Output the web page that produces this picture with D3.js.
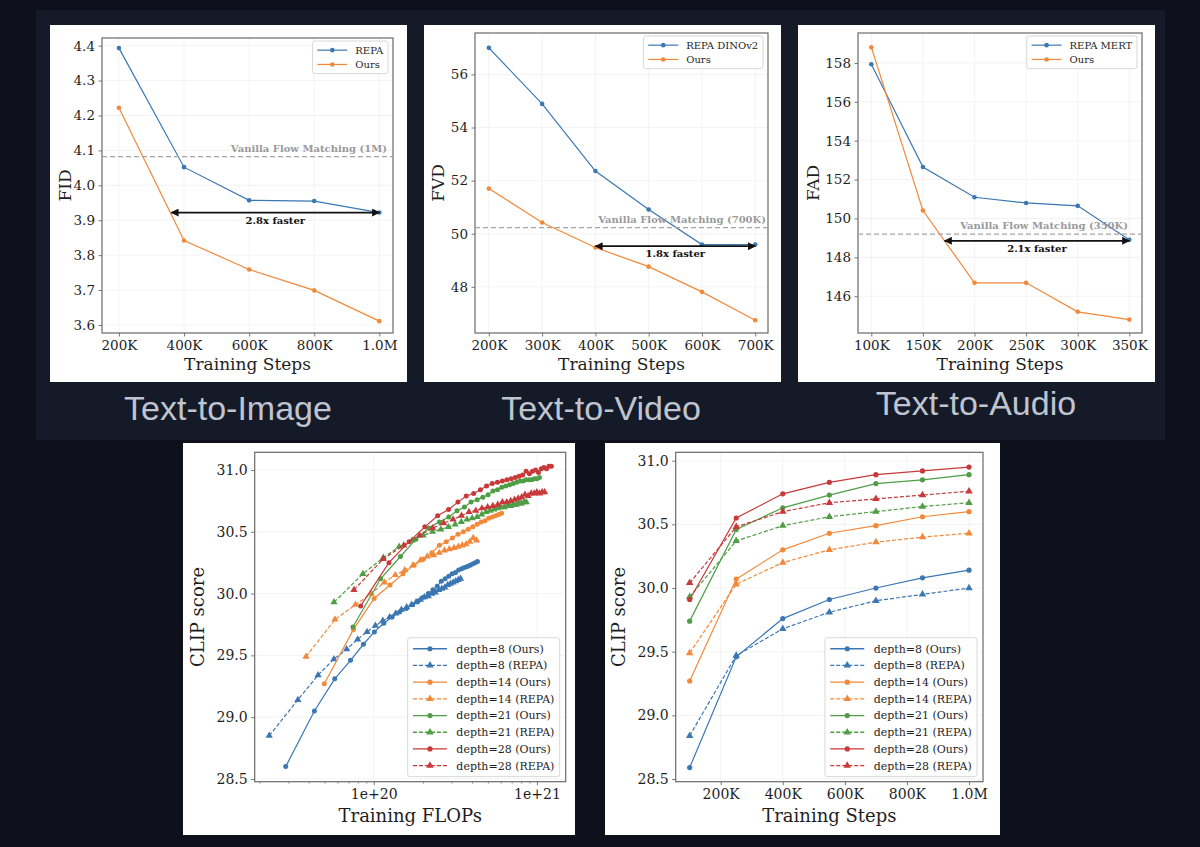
<!DOCTYPE html>
<html><head><meta charset="utf-8">
<script src="https://cdn.jsdelivr.net/npm/d3@7"></script>
<style>html,body{margin:0;padding:0;background:#0e111b;}svg{display:block;}</style>
</head><body>
<svg id="c" width="1200" height="847"></svg>
<script>
// ---------------- DATA ----------------
// Text-to-Image (FID)
const t2iSteps = [200000, 400000, 600000, 800000, 1000000];
const t2iRepa = [4.393, 4.052, 3.957, 3.955, 3.922];
const t2iOurs = [4.222, 3.842, 3.759, 3.699, 3.611];
const t2iVanilla = 4.082;
const t2iArrow = [361000, 1000000, 3.922];
const t2iXTicks = [200000, 400000, 600000, 800000, 1000000];
const t2iXLabels = ["200K", "400K", "600K", "800K", "1.0M"];
const t2iYTicks = [3.6, 3.7, 3.8, 3.9, 4.0, 4.1, 4.2, 4.3, 4.4];
const t2iYLabels = ["3.6", "3.7", "3.8", "3.9", "4.0", "4.1", "4.2", "4.3", "4.4"];

// Text-to-Video (FVD)
const t2vSteps = [200000, 300000, 400000, 500000, 600000, 700000];
const t2vRepa = [57.0, 54.89, 52.36, 50.91, 49.59, 49.59];
const t2vOurs = [51.70, 50.42, 49.48, 48.76, 47.81, 46.74];
const t2vVanilla = 50.23;
const t2vArrow = [400000, 700000, 49.53];
const t2vXTicks = [200000, 300000, 400000, 500000, 600000, 700000];
const t2vXLabels = ["200K", "300K", "400K", "500K", "600K", "700K"];
const t2vYTicks = [48, 50, 52, 54, 56];
const t2vYLabels = ["48", "50", "52", "54", "56"];

// Text-to-Audio (FAD)
const t2aSteps = [100000, 150000, 200000, 250000, 300000, 350000];
const t2aRepa = [157.93, 152.65, 151.09, 150.80, 150.65, 148.91];
const t2aOurs = [158.81, 150.41, 146.69, 146.69, 145.20, 144.80];
const t2aVanilla = 149.20;
const t2aArrow = [171000, 350000, 148.85];
const t2aXTicks = [100000, 150000, 200000, 250000, 300000, 350000];
const t2aXLabels = ["100K", "150K", "200K", "250K", "300K", "350K"];
const t2aYTicks = [146, 148, 150, 152, 154, 156, 158];
const t2aYLabels = ["146", "148", "150", "152", "154", "156", "158"];

// CLIP score vs Training FLOPs (x in units of 1e19 FLOPs)
const flopsD8Ours = [2.89, 4.33, 5.77, 7.21, 8.65, 10.09, 11.53, 12.97, 14.41, 15.85, 17.29, 18.73, 20.17, 21.61, 23.05, 24.49, 25.93, 27.37, 28.81, 30.25, 31.69, 33.13, 34.57, 36.01, 37.45, 38.89, 40.33, 41.77, 43.21];
const clipFD8Ours = [28.60, 29.05, 29.31, 29.46, 29.59, 29.69, 29.76, 29.81, 29.85, 29.88, 29.91, 29.94, 29.97, 30.00, 30.03, 30.06, 30.10, 30.12, 30.14, 30.16, 30.17, 30.19, 30.20, 30.21, 30.22, 30.23, 30.24, 30.25, 30.26];
const flopsD8Repa = [2.29, 3.43, 4.56, 5.70, 6.83, 7.97, 9.10, 10.24, 11.37, 12.51, 13.64, 14.78, 15.91, 17.05, 18.18, 19.32, 20.45, 21.59, 22.72, 23.86, 24.99, 26.13, 27.26, 28.40, 29.53, 30.67, 31.80, 32.94, 34.07];
const clipFD8Repa = [28.85, 29.14, 29.34, 29.47, 29.55, 29.63, 29.69, 29.74, 29.78, 29.81, 29.84, 29.87, 29.89, 29.91, 29.93, 29.95, 29.97, 29.98, 30.00, 30.01, 30.03, 30.04, 30.05, 30.07, 30.08, 30.09, 30.10, 30.11, 30.12];
const flopsD14Ours = [4.98, 7.52, 10.05, 12.59, 15.12, 17.66, 20.19, 22.73, 25.26, 27.80, 30.33, 32.87, 35.40, 37.94, 40.47, 43.01, 45.54, 48.08, 50.61, 53.15, 55.68, 58.22, 60.75];
const clipFD14Ours = [29.27, 29.71, 29.96, 30.07, 30.16, 30.23, 30.28, 30.33, 30.39, 30.42, 30.45, 30.48, 30.50, 30.52, 30.54, 30.56, 30.58, 30.59, 30.61, 30.62, 30.63, 30.64, 30.65];
const flopsD14Repa = [3.85, 5.79, 7.73, 9.67, 11.61, 13.55, 15.49, 17.43, 19.37, 21.31, 23.25, 25.19, 27.13, 29.07, 31.01, 32.95, 34.89, 36.83, 38.77, 40.71, 42.65];
const clipFD14Repa = [29.49, 29.79, 29.91, 30.00, 30.09, 30.15, 30.19, 30.23, 30.27, 30.30, 30.31, 30.33, 30.35, 30.36, 30.37, 30.38, 30.39, 30.40, 30.42, 30.45, 30.43];
const flopsD21Ours = [7.46, 11.02, 14.58, 18.14, 21.70, 25.26, 28.82, 32.38, 35.94, 39.50, 43.06, 46.62, 50.18, 53.74, 57.30, 60.86, 64.42, 67.98, 71.54, 75.10, 78.66, 82.22, 85.78, 89.34, 92.90, 96.46, 100.02, 103.58];
const clipFD21Ours = [29.73, 30.12, 30.30, 30.44, 30.53, 30.58, 30.62, 30.67, 30.70, 30.74, 30.76, 30.78, 30.80, 30.83, 30.84, 30.86, 30.87, 30.88, 30.89, 30.90, 30.91, 30.91, 30.92, 30.92, 30.92, 30.93, 30.93, 30.94];
const flopsD21Repa = [5.71, 8.58, 11.45, 14.32, 17.19, 20.06, 22.93, 25.80, 28.67, 31.54, 34.41, 37.28, 40.15, 43.02, 45.89, 48.76, 51.63, 54.50, 57.37, 60.24, 63.11, 65.98, 68.85, 71.72, 74.59, 77.46, 80.33, 83.20, 86.07];
const clipFD21Repa = [29.93, 30.16, 30.29, 30.38, 30.43, 30.47, 30.50, 30.52, 30.54, 30.56, 30.58, 30.60, 30.61, 30.62, 30.64, 30.66, 30.67, 30.68, 30.69, 30.70, 30.70, 30.71, 30.71, 30.72, 30.72, 30.73, 30.73, 30.74, 30.74];
const flopsD28Ours = [8.32, 12.40, 16.48, 20.56, 24.64, 28.72, 32.80, 36.88, 40.96, 45.04, 49.12, 53.20, 57.28, 61.36, 65.44, 69.52, 73.60, 77.68, 81.76, 85.84, 89.92, 94.00, 98.08, 102.16, 106.24, 110.32, 114.40, 118.48, 122.56];
const clipFD28Ours = [29.90, 30.25, 30.42, 30.54, 30.63, 30.68, 30.74, 30.79, 30.81, 30.84, 30.87, 30.89, 30.90, 30.91, 30.92, 30.93, 30.94, 30.95, 30.96, 30.99, 30.97, 30.99, 31.00, 30.98, 31.01, 31.02, 31.01, 31.03, 31.03];
const flopsD28Repa = [7.57, 11.42, 15.26, 19.11, 22.95, 26.80, 30.64, 34.49, 38.33, 42.18, 46.02, 49.87, 53.71, 57.56, 61.40, 65.25, 69.09, 72.94, 76.78, 80.63, 84.47, 88.32, 92.16, 96.01, 99.85, 103.70, 107.54, 111.39];
const clipFD28Repa = [30.03, 30.28, 30.39, 30.47, 30.53, 30.57, 30.60, 30.63, 30.66, 30.67, 30.69, 30.70, 30.71, 30.72, 30.74, 30.74, 30.75, 30.76, 30.77, 30.78, 30.80, 30.79, 30.81, 30.81, 30.82, 30.81, 30.82, 30.82];
const flopsMajorTicks = [1e20, 1e21];
const flopsMajorLabels = ["1e+20", "1e+21"];
const flopsMinorTicks = [2e19, 3e19, 4e19, 5e19, 6e19, 7e19, 8e19, 9e19, 2e20, 3e20, 4e20, 5e20, 6e20, 7e20, 8e20, 9e20];

// CLIP score vs Training Steps
const clipSteps = [100000, 250000, 400000, 550000, 700000, 850000, 1000000];
const clipSD8Ours = [28.59, 29.46, 29.76, 29.91, 30.00, 30.08, 30.14];
const clipSD8Repa = [28.84, 29.47, 29.68, 29.81, 29.90, 29.95, 30.00];
const clipSD14Ours = [29.27, 30.07, 30.30, 30.43, 30.49, 30.56, 30.60];
const clipSD14Repa = [29.49, 30.03, 30.20, 30.30, 30.36, 30.40, 30.43];
const clipSD21Ours = [29.74, 30.46, 30.63, 30.73, 30.82, 30.85, 30.89];
const clipSD21Repa = [29.93, 30.37, 30.49, 30.56, 30.60, 30.64, 30.67];
const clipSD28Ours = [29.91, 30.55, 30.74, 30.83, 30.89, 30.92, 30.95];
const clipSD28Repa = [30.04, 30.48, 30.60, 30.67, 30.70, 30.73, 30.76];
const clipStepXTicks = [200000, 400000, 600000, 800000, 1000000];
const clipStepXLabels = ["200K", "400K", "600K", "800K", "1.0M"];
const clipYTicks = [28.5, 29.0, 29.5, 30.0, 30.5, 31.0];
const clipYLabels = ["28.5", "29.0", "29.5", "30.0", "30.5", "31.0"];

const depthLabels = ["depth=8 (Ours)", "depth=8 (REPA)", "depth=14 (Ours)", "depth=14 (REPA)", "depth=21 (Ours)", "depth=21 (REPA)", "depth=28 (Ours)", "depth=28 (REPA)"];
const taskTitles = ["Text-to-Image", "Text-to-Video", "Text-to-Audio"];

// ---------------- STYLE ----------------
const FONT = "'DejaVu Serif', serif";
const C = {blue: "#3b77b2", orange: "#f2893a", green: "#4f9e45", red: "#c8393a"};
const DASH = "4,2";

const svg = d3.select("#c");
const defs = svg.append("defs");
defs.append("marker").attr("id", "ah").attr("viewBox", "0 0 10 10").attr("refX", 9).attr("refY", 5)
  .attr("markerWidth", 10).attr("markerHeight", 8).attr("markerUnits", "userSpaceOnUse")
  .attr("orient", "auto-start-reverse")
  .append("path").attr("d", "M0,0 L10,5 L0,10 Z").attr("fill", "#111");

svg.append("rect").attr("width", 1200).attr("height", 847).attr("fill", "#0e111b");
svg.append("rect").attr("x", 36).attr("y", 10).attr("width", 1129).attr("height", 430).attr("fill", "#151a28");

// cards
[[50, 25, 357, 357], [424, 25, 357, 357], [798, 25, 357, 357], [183, 443, 392, 392], [605, 443, 395, 392]]
  .forEach(c => svg.append("rect").attr("x", c[0]).attr("y", c[1]).attr("width", c[2]).attr("height", c[3]).attr("fill", "#ffffff"));

// task titles
const titleX = [228, 601, 976], titleY = [420, 420, 415];
taskTitles.forEach((t, i) => svg.append("text").attr("x", titleX[i]).attr("y", titleY[i]).attr("text-anchor", "middle")
  .attr("font-family", "'Liberation Sans', Arial, Helvetica, sans-serif").attr("font-size", 34).attr("fill", "#bfc4ce").text(t));

function marker(g, type, cx, cy, color, r) {
  if (type === "circle") {
    g.append("circle").attr("cx", cx).attr("cy", cy).attr("r", r).attr("fill", color);
  } else {
    g.append("path").attr("d", d3.symbol(d3.symbolTriangle, r * r * 3.6)()).attr("transform", `translate(${cx},${cy})`).attr("fill", color);
  }
}

function drawPanel(o) {
  const g = svg.append("g");
  const x = o.x, y = o.y;
  // grid
  g.append("g").selectAll("line").data(o.xGrid).join("line")
    .attr("x1", d => x(d)).attr("x2", d => x(d)).attr("y1", o.t).attr("y2", o.b)
    .attr("stroke", "#f0f0f0").attr("stroke-width", 0.8);
  g.append("g").selectAll("line").data(o.yTicks).join("line")
    .attr("y1", d => y(d)).attr("y2", d => y(d)).attr("x1", o.l).attr("x2", o.r)
    .attr("stroke", "#f0f0f0").attr("stroke-width", 0.8);
  // axes
  const ax = g.append("g").attr("transform", `translate(0,${o.b})`)
    .call(d3.axisBottom(x).tickValues(o.xTicks).tickFormat((d, i) => o.xLabels[i]).tickSizeInner(3.5).tickSizeOuter(0).tickPadding(o.xPad));
  if (o.xMinor) {
    const axm = g.append("g").attr("transform", `translate(0,${o.b})`)
      .call(d3.axisBottom(x).tickValues(o.xMinor).tickFormat("").tickSizeInner(2).tickSizeOuter(0));
    axm.select(".domain").remove();
    axm.selectAll("line").attr("stroke", "#555").attr("stroke-width", 0.6);
  }
  const ay = g.append("g").attr("transform", `translate(${o.l},0)`)
    .call(d3.axisLeft(y).tickValues(o.yTicks).tickFormat((d, i) => o.yLabels[i]).tickSizeInner(3.5).tickSizeOuter(0).tickPadding(3.5));
  [ax, ay].forEach(a => {
    a.select(".domain").remove();
    a.selectAll("line").attr("stroke", "#555").attr("stroke-width", 0.8);
    a.selectAll("text").attr("font-family", FONT).attr("font-size", o.tickFs).attr("fill", "#1e1e1e");
  });
  g.append("rect").attr("x", o.l).attr("y", o.t).attr("width", o.r - o.l).attr("height", o.b - o.t)
    .attr("fill", "none").attr("stroke", "#6a6a6a").attr("stroke-width", 1.2);
  // labels
  g.append("text").attr("x", (o.l + o.r) / 2).attr("y", o.xLabelY).attr("text-anchor", "middle")
    .attr("font-family", FONT).attr("font-size", o.labelFs).attr("fill", "#1e1e1e").text(o.xTitle);
  g.append("text").attr("transform", `translate(${o.yLabelX},${(o.t + o.b) / 2}) rotate(-90)`).attr("text-anchor", "middle")
    .attr("dy", "0.35em").attr("font-family", FONT).attr("font-size", o.labelFs).attr("fill", "#1e1e1e").text(o.yTitle);
  // series
  const plot = g.append("g");
  o.series.forEach(s => {
    const pts = s.xs.map((xv, i) => [x(xv), y(s.ys[i])]);
    plot.append("path").attr("d", d3.line()(pts)).attr("fill", "none").attr("stroke", s.color)
      .attr("stroke-width", o.lw).attr("stroke-dasharray", s.dash ? DASH : null);
    pts.forEach(p => marker(plot, s.marker, p[0], p[1], s.color, o.mr));
  });
  return {g, x, y};
}

function legend(g, items, cfg) {
  const lg = g.append("g");
  const tmp = lg.append("text").attr("font-family", FONT).attr("font-size", cfg.fs);
  let maxW = 0;
  items.forEach(it => { tmp.text(it.label); maxW = Math.max(maxW, tmp.node().getComputedTextLength()); });
  tmp.remove();
  const w = cfg.padX + cfg.lineLen + cfg.gap + maxW + cfg.padX;
  const h = cfg.padY * 2 + cfg.rowH * items.length;
  const x0 = cfg.right - w;
  const y0 = cfg.top !== undefined ? cfg.top : cfg.bottom - h;
  lg.append("rect").attr("x", x0).attr("y", y0).attr("width", w).attr("height", h).attr("rx", 2.5)
    .attr("fill", "#fff").attr("fill-opacity", 0.85).attr("stroke", "#d4d4d4").attr("stroke-width", 0.9);
  items.forEach((it, i) => {
    const cy = y0 + cfg.padY + cfg.rowH * (i + 0.5);
    const lx = x0 + cfg.padX;
    lg.append("line").attr("x1", lx).attr("x2", lx + cfg.lineLen).attr("y1", cy).attr("y2", cy)
      .attr("stroke", it.color).attr("stroke-width", cfg.lw).attr("stroke-dasharray", it.dash ? DASH : null);
    marker(lg, it.marker, lx + cfg.lineLen / 2, cy, it.color, cfg.mr);
    lg.append("text").attr("x", lx + cfg.lineLen + cfg.gap).attr("y", cy).attr("dy", "0.35em")
      .attr("font-family", FONT).attr("font-size", cfg.fs).attr("fill", "#1e1e1e").text(it.label);
  });
}

function annotate(p, o, vanilla, vanText, arrow, arrowText) {
  const {g, x, y} = p;
  g.append("line").attr("x1", o.l).attr("x2", o.r).attr("y1", y(vanilla)).attr("y2", y(vanilla))
    .attr("stroke", "#a3a3a3").attr("stroke-width", 1.3).attr("stroke-dasharray", "5,3");
  g.append("text").attr("x", o.r - o.vanPad).attr("y", y(vanilla) - 5).attr("text-anchor", "end")
    .attr("font-family", FONT).attr("font-weight", "bold").attr("font-size", 10).attr("fill", "#9a9a9a").text(vanText);
  g.append("line").attr("x1", x(arrow[0])).attr("x2", x(arrow[1])).attr("y1", y(arrow[2])).attr("y2", y(arrow[2]))
    .attr("stroke", "#111").attr("stroke-width", 1.8).attr("marker-start", "url(#ah)").attr("marker-end", "url(#ah)");
  g.append("text").attr("x", (x(arrow[0]) + x(arrow[1])) / 2).attr("y", y(arrow[2]) + 11).attr("text-anchor", "middle")
    .attr("font-family", FONT).attr("font-weight", "bold").attr("font-size", 10).attr("fill", "#111").text(arrowText);
}

// ---------------- TOP CHARTS ----------------
function topChart(box, xd, yd, steps, repa, ours, xT, xL, yT, yL, yTitle, repaLabel, vanilla, vanText, arrow, arrowText, yLabelOff, vanPad) {
  const o = Object.assign({}, box);
  o.x = d3.scaleLinear().domain(xd).range([o.l, o.r]);
  o.y = d3.scaleLinear().domain(yd).range([o.b, o.t]);
  Object.assign(o, {xTicks: xT, xLabels: xL, xGrid: xT, yTicks: yT, yLabels: yL, xPad: 3.5, tickFs: 13.5, labelFs: 17,
    xTitle: "Training Steps", yTitle: yTitle, xLabelY: 370, yLabelX: o.l - yLabelOff, lw: 1.2, mr: 2.3, vanPad: vanPad,
    series: [
      {xs: steps, ys: repa, color: C.blue, marker: "circle"},
      {xs: steps, ys: ours, color: C.orange, marker: "circle"}
    ]});
  const p = drawPanel(o);
  annotate(p, o, vanilla, vanText, arrow, arrowText);
  legend(p.g, [
    {label: repaLabel, color: C.blue, marker: "circle"},
    {label: "Ours", color: C.orange, marker: "circle"}
  ], {right: o.r - 5, top: o.t + 3, fs: 10, lineLen: 30, rowH: 14.3, padX: 4.8, padY: 2, gap: 8, lw: 1.2, mr: 2.3});
}

topChart({l: 102, r: 393, t: 38, b: 333}, [148000, 1042000], [3.577, 4.422], t2iSteps, t2iRepa, t2iOurs,
  t2iXTicks, t2iXLabels, t2iYTicks, t2iYLabels, "FID", "REPA", t2iVanilla, "Vanilla Flow Matching (1M)", t2iArrow, "2.8x faster", 37, 6);
topChart({l: 475, r: 768, t: 33, b: 333}, [174000, 724000], [46.26, 57.56], t2vSteps, t2vRepa, t2vOurs,
  t2vXTicks, t2vXLabels, t2vYTicks, t2vYLabels, "FVD", "REPA DINOv2", t2vVanilla, "Vanilla Flow Matching (700K)", t2vArrow, "1.8x faster", 37, 2);
topChart({l: 858, r: 1142, t: 33, b: 333}, [87100, 362300], [144.11, 159.54], t2aSteps, t2aRepa, t2aOurs,
  t2aXTicks, t2aXLabels, t2aYTicks, t2aYLabels, "FAD", "REPA MERT", t2aVanilla, "Vanilla Flow Matching (350K)", t2aArrow, "2.1x faster", 45, 14);

// ---------------- BOTTOM CHARTS ----------------
const depthColors = [C.blue, C.blue, C.orange, C.orange, C.green, C.green, C.red, C.red];
const legendItems = depthLabels.map((lab, i) => ({label: lab, color: depthColors[i], marker: i % 2 ? "tri" : "circle", dash: i % 2 === 1}));
const legCfg = {fs: 11, lineLen: 34, rowH: 16.7, padX: 5.3, padY: 2.7, gap: 9.4, lw: 1.3, mr: 2.6};

// FLOPs chart
(function () {
  const o = {l: 254.7, r: 565.7, t: 452.3, b: 781.7};
  o.x = d3.scaleLog().domain([1.866e19, 1.5e21]).range([o.l, o.r]);
  o.y = d3.scaleLinear().domain([28.478, 31.143]).range([o.b, o.t]);
  const fx = arr => arr.map(v => v * 1e19);
  const xs = [flopsD8Ours, flopsD8Repa, flopsD14Ours, flopsD14Repa, flopsD21Ours, flopsD21Repa, flopsD28Ours, flopsD28Repa];
  const ys = [clipFD8Ours, clipFD8Repa, clipFD14Ours, clipFD14Repa, clipFD21Ours, clipFD21Repa, clipFD28Ours, clipFD28Repa];
  Object.assign(o, {xTicks: flopsMajorTicks, xLabels: flopsMajorLabels, xMinor: flopsMinorTicks, xGrid: flopsMajorTicks,
    yTicks: clipYTicks, yLabels: clipYLabels, xPad: 4, tickFs: 14, labelFs: 18,
    xTitle: "Training FLOPs", yTitle: "CLIP score", xLabelY: 822, yLabelX: 198, lw: 1.2, mr: 2.5,
    series: xs.map((a, i) => ({xs: fx(a), ys: ys[i], color: depthColors[i], marker: i % 2 ? "tri" : "circle", dash: i % 2 === 1}))});
  const p = drawPanel(o);
  legend(p.g, legendItems, Object.assign({right: o.r - 6, bottom: o.b - 5}, legCfg));
})();

// Steps chart
(function () {
  const o = {l: 675.7, r: 983, t: 452.3, b: 781.7};
  o.x = d3.scaleLinear().domain([55000, 1045000]).range([o.l, o.r]);
  o.y = d3.scaleLinear().domain([28.479, 31.066]).range([o.b, o.t]);
  const ys = [clipSD8Ours, clipSD8Repa, clipSD14Ours, clipSD14Repa, clipSD21Ours, clipSD21Repa, clipSD28Ours, clipSD28Repa];
  Object.assign(o, {xTicks: clipStepXTicks, xLabels: clipStepXLabels, xGrid: clipStepXTicks,
    yTicks: clipYTicks, yLabels: clipYLabels, xPad: 4, tickFs: 14, labelFs: 18,
    xTitle: "Training Steps", yTitle: "CLIP score", xLabelY: 822, yLabelX: 619, lw: 1.2, mr: 2.6,
    series: ys.map((a, i) => ({xs: clipSteps, ys: a, color: depthColors[i], marker: i % 2 ? "tri" : "circle", dash: i % 2 === 1}))});
  const p = drawPanel(o);
  legend(p.g, legendItems, Object.assign({right: o.r - 6, bottom: o.b - 5}, legCfg));
})();
</script>
</body></html>
